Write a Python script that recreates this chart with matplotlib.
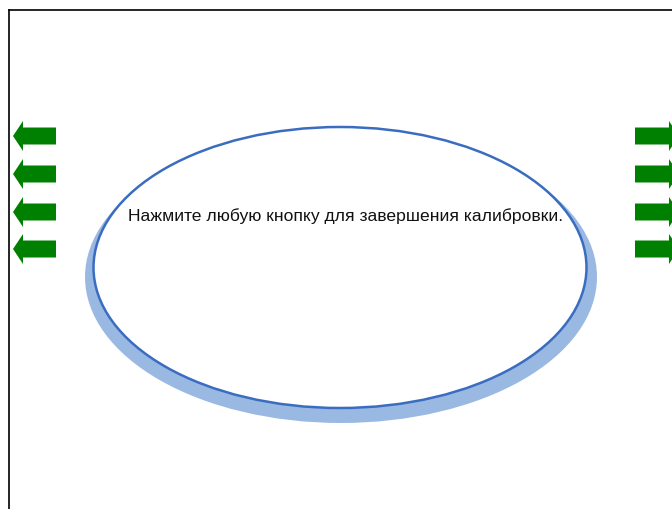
import matplotlib
matplotlib.use("Agg")
from matplotlib import pyplot as plt
from matplotlib.patches import Ellipse, FancyArrow

# canvas in pixels
W, H = 672, 510

# texts / positions
MESSAGE = "Нажмите любую кнопку для завершения калибровки."
ARROW_ROWS = [137, 175, 213, 250]
LEFT_TAIL, LEFT_TIP = 56, 13
RIGHT_TAIL, RIGHT_TIP = 635, 679

GREEN = "#008000"
RING_DARK = "#3a6cc0"
RING_LIGHT = "#9ab9e2"

fig = plt.figure(figsize=(W / 100, H / 100), dpi=100)
ax = fig.add_axes([0, 0, 1, 1])
ax.set_xlim(0, W)
ax.set_ylim(H, 0)
ax.axis("off")

# frame (top and left edges only visible)
ax.plot([9, W], [11, 11], color="black", lw=1.2)
ax.plot([9, 9], [11, H], color="black", lw=1.2)

# shadow ring then the main ellipse
ax.add_patch(Ellipse((341, 278), 512, 292, facecolor=RING_LIGHT,
                     edgecolor="none", zorder=2))
ax.add_patch(Ellipse((340, 268.5), 493, 281, facecolor="white",
                     edgecolor=RING_DARK, lw=1.8, zorder=3))

for y in ARROW_ROWS:
    ax.add_patch(FancyArrow(LEFT_TAIL, y, LEFT_TIP - LEFT_TAIL, 0, width=17,
                            head_width=30, head_length=10,
                            length_includes_head=True, color=GREEN, lw=0))
    ax.add_patch(FancyArrow(RIGHT_TAIL, y, RIGHT_TIP - RIGHT_TAIL, 0, width=17,
                            head_width=30, head_length=10,
                            length_includes_head=True, color=GREEN, lw=0))

ax.text(346, 216, MESSAGE, ha="center", va="center", fontsize=12.6,
        family=["Liberation Sans", "DejaVu Sans"], color="#111111", zorder=4)

fig.savefig("out.png", dpi=100)
